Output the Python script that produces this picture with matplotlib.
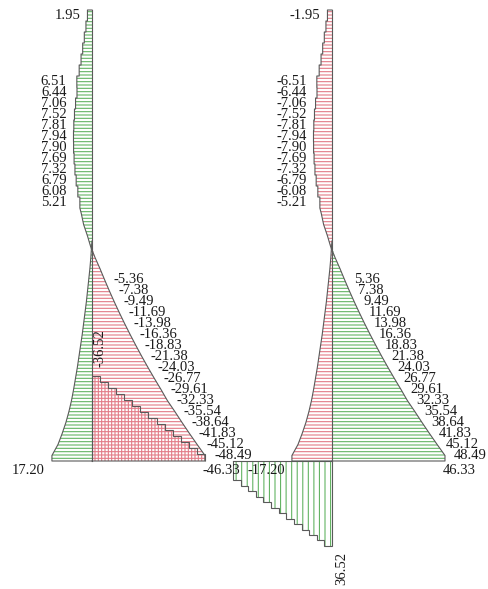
import numpy as np
import matplotlib
matplotlib.use("Agg")
import matplotlib.pyplot as plt

plt.rcParams['font.family'] = ['Liberation Serif', 'DejaVu Serif']
plt.rcParams['hatch.linewidth'] = 0.8

# ---------------- data (left diagram; right diagram shows the opposite sign) -------------
# wall force per storey, storey 1 (bottom) .. 41 (top)
wall_force = np.array([-48.49, -45.12, -41.83, -38.64, -35.54, -32.33, -29.61, -26.77,
                       -24.03, -21.38, -18.83, -16.36, -13.98, -11.69, -9.49, -7.38,
                       -5.36, -3.4, -1.3, 0.6, 2.0, 3.6, 4.6, 5.21, 6.08, 6.79, 7.32,
                       7.69, 7.90, 7.94, 7.81, 7.52, 7.06, 6.44, 6.51, 5.5, 4.7, 4.0,
                       3.3, 2.6, 1.95])
base_force = -46.33
# frame force per storey, storey 1 .. 20
frame_force = np.array([17.20, 14.6, 12.8, 11.2, 9.9, 8.8, 7.9, 7.1, 6.3, 5.6, 4.9,
                        4.2, 3.6, 3.0, 2.4, 1.9, 1.4, 0.9, 0.5, 0.2])
upper_label_storeys = list(range(24, 36))
top_label_storeys = [41]
lower_label_storeys = list(range(1, 18))
# beam diagrams (from the wall outwards)
beam_left = np.array([36.52, 34.0, 31.3, 28.7, 26.1, 23.6, 21.0, 18.3, 15.8, 13.2,
                      10.6, 8.0, 5.4, 2.9])
beam_bottom = np.array([36.52, 34.1, 31.8, 29.4, 27.1, 24.7, 22.4, 20.0, 17.7, 15.3,
                        13.0, 10.6, 8.2])

# ---------------- layout -------------
PX = 2.33                 # pixels per unit
H = 11.0 / PX             # storey height in drawing units
STEP_FROM = 24            # storeys drawn as steps from here upwards
ORIGIN_L = 0.0
ORIGIN_R = 240.0 / PX
BW_L = 113.0 / 14 / PX
BW_B = 99.0 / 13 / PX
GREEN = '#64b464'
RED = '#e27a86'
LINE = '#5a5a5a'
TXT = '#1a1a1a'
FS = 10.5

fig = plt.figure(figsize=(4.89, 5.89), dpi=100)
ax = fig.add_axes([0, 0, 1, 1])
ax.set_xlim(-92 / PX, (489 - 92) / PX)
ax.set_ylim((461 - 589) / PX, 461 / PX)
ax.axis('off')


def profile(vals):
    """Outline points (offset, height): stepped in upper storeys, straight below."""
    xs, ys = [0.0], [len(vals) * H]
    for s in range(len(vals), 0, -1):
        v = vals[s - 1]
        if s >= STEP_FROM:
            xs += [v, v]
            ys += [s * H, (s - 1) * H]
        else:
            xs.append(v)
            ys.append((s - 0.5) * H)
    xs += [vals[0], 0.0]
    ys += [0.0, 0.0]
    return np.array(xs), np.array(ys)


def diagram(origin, left_col, right_col, sign):
    for vals in (wall_force, frame_force):
        px, py = profile(vals)
        g = -px   # positive values are drawn to the left
        ax.fill(origin + np.minimum(g, 0), py, facecolor='none', edgecolor=left_col,
                lw=0, hatch='-----')
        ax.fill(origin + np.maximum(g, 0), py, facecolor='none', edgecolor=right_col,
                lw=0, hatch='-----')
        ax.plot(origin + g, py, color=LINE, lw=0.8)
    ax.plot([origin, origin], [0, len(wall_force) * H], color=LINE, lw=0.8)

    col_x = origin - (wall_force[upper_label_storeys[0] - 1:upper_label_storeys[-1]].max() + 3.0)
    for s in upper_label_storeys:
        ax.text(col_x, (s - 0.5) * H, f"{sign * wall_force[s - 1]:.2f}", ha='right',
                va='center', fontsize=FS, color=TXT)
    for s in top_label_storeys:
        ax.text(origin - wall_force[s - 1] - 3.0, (s - 0.5) * H,
                f"{sign * wall_force[s - 1]:.2f}", ha='right', va='center',
                fontsize=FS, color=TXT)
    for s in lower_label_storeys:
        ax.text(origin - wall_force[s - 1] + 3.9, (s - 0.5) * H,
                f"{sign * wall_force[s - 1]:.2f}", ha='left', va='center',
                fontsize=FS, color=TXT)
    ax.text(origin - base_force + 1.2, -9 / PX, f"{sign * base_force:.2f}", ha='left',
            va='center', fontsize=FS, color=TXT)
    ax.text(origin - frame_force[0] - 3.0, -9 / PX, f"{sign * frame_force[0]:.2f}",
            ha='right', va='center', fontsize=FS, color=TXT)


diagram(ORIGIN_L, GREEN, RED, 1)
diagram(ORIGIN_R, RED, GREEN, -1)

# beam staircase above the base of the left diagram
be = ORIGIN_L + np.arange(len(beam_left) + 1) * BW_L
ax.stairs(beam_left, be, baseline=0, fill=False, hatch='|||||', edgecolor=RED, lw=0)
ax.stairs(beam_left, be, baseline=0, fill=False, color=LINE, lw=0.8)
ax.text(ORIGIN_L + 3.4, beam_left[0] + 3.8, f"{-beam_left[0]:.2f}", rotation=90,
        ha='center', va='bottom', fontsize=FS, color=TXT)

# beam staircase hanging below the right diagram
bb = ORIGIN_R - np.arange(len(beam_bottom) + 1)[::-1] * BW_B
vals_b = -beam_bottom[::-1]
ax.stairs(vals_b, bb, baseline=0, fill=False, hatch='|||', edgecolor=GREEN, lw=0)
ax.stairs(vals_b, bb, baseline=0, fill=False, color=LINE, lw=0.8)
ax.plot([bb[0], bb[-1]], [0, 0], color=LINE, lw=0.8)
ax.text(ORIGIN_R + 4.3, -beam_bottom[0] - 2.6, f"{beam_bottom[0]:.2f}", rotation=90,
        ha='center', va='top', fontsize=FS, color=TXT)

fig.savefig('out.png', dpi=100, facecolor='white')
